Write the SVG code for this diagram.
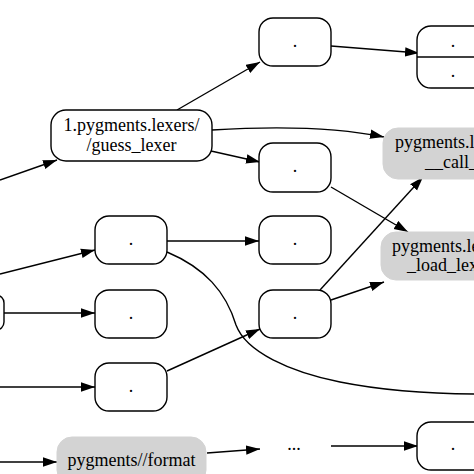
<svg xmlns="http://www.w3.org/2000/svg" width="474" height="474" viewBox="0 0 474 474">
<defs>
<style>
.n{fill:#fff;stroke:#000;stroke-width:1.4}
.g{fill:#d3d3d3;stroke:#d3d3d3;stroke-width:1}
.t{font-family:"Liberation Serif","Times New Roman",serif;font-size:18px;fill:#000;text-anchor:middle}
.e{fill:none;stroke:#000;stroke-width:1.4}
.a{marker-end:url(#ah)}
</style>
<marker id="ah" markerUnits="userSpaceOnUse" markerWidth="15" markerHeight="11" refX="14" refY="5" orient="auto">
<path d="M0,0.3 L14,5 L0,9.7 z" fill="#000"/>
</marker>
</defs>
<rect width="474" height="474" fill="#fff"/>
<g id="edges">
<path class="e a" d="M0,180 L57,160"/>
<path class="e a" d="M177,110 L260,62"/>
<path class="e a" d="M331,46 L419,53"/>
<path class="e a" d="M212,130 C260,127 330,126 384,137"/>
<path class="e a" d="M211,151 L260,162"/>
<path class="e a" d="M331,187 L408,232"/>
<path class="e a" d="M320,290 L423,177"/>
<path class="e a" d="M331,300 L384,282"/>
<path class="e a" d="M0,274 L95,250"/>
<path class="e a" d="M4,313 L95,313"/>
<path class="e a" d="M0,387 L95,387"/>
<path class="e a" d="M0,462 L57,462"/>
<path class="e a" d="M167,241 L259,241"/>
<path class="e" d="M167,252 C205,268 226,292 236,325 C246,352 290,372 340,382 C380,390 430,394 480,394"/>
<path class="e a" d="M167,371 L260,329"/>
<path class="e a" d="M207,453 L260,449"/>
<path class="e a" d="M331,446 L418,446"/>
</g>
<g id="guess_lexer"><rect class="n" x="51" y="110" width="161" height="51" rx="15"/><text class="t" x="131.5" y="130.5">1.pygments.lexers/</text><text class="t" x="131.5" y="150.5">/guess_lexer</text></g>
<g id="n1"><rect class="n" x="259" y="18" width="72" height="48" rx="14"/><text class="t" x="295" y="47">.</text></g>
<g id="r1"><rect class="n" x="417" y="26" width="72" height="62" rx="14"/><line class="e" x1="417" y1="57" x2="489" y2="57"/><text class="t" x="453" y="46.5">.</text><text class="t" x="453" y="76.5">.</text></g>
<g id="call"><rect class="g" x="383" y="128" width="144" height="51" rx="15"/><text class="t" x="456" y="148">pygments.lexers.</text><text class="t" x="456" y="168">__call__</text></g>
<g id="n2"><rect class="n" x="259" y="143" width="72" height="49" rx="14"/><text class="t" x="295" y="172">.</text></g>
<g id="n3"><rect class="n" x="95" y="216" width="72" height="48" rx="14"/><text class="t" x="131" y="245">.</text></g>
<g id="n4"><rect class="n" x="259" y="216" width="72" height="48" rx="14"/><text class="t" x="295" y="245">.</text></g>
<g id="load"><rect class="g" x="381" y="232" width="144" height="48" rx="15"/><text class="t" x="453" y="251.5">pygments.lexers.</text><text class="t" x="453" y="271">_load_lexers</text></g>
<g id="left"><rect class="n" x="-60" y="295" width="64" height="35" rx="8"/></g>
<g id="n5"><rect class="n" x="95" y="290" width="72" height="48" rx="14"/><text class="t" x="131" y="319">.</text></g>
<g id="n6"><rect class="n" x="259" y="290" width="72" height="48" rx="14"/><text class="t" x="295" y="319">.</text></g>
<g id="n7"><rect class="n" x="95" y="363" width="72" height="48" rx="14"/><text class="t" x="131" y="392">.</text></g>
<g id="format"><rect class="g" x="57" y="437" width="149" height="48" rx="15"/><text class="t" x="131.5" y="466">pygments//format</text></g>
<g id="ellipsis"><text class="t" x="294" y="450">...</text></g>
<g id="r2"><rect class="n" x="417" y="422" width="72" height="48" rx="14"/><text class="t" x="453" y="450">.</text></g>
</svg>
